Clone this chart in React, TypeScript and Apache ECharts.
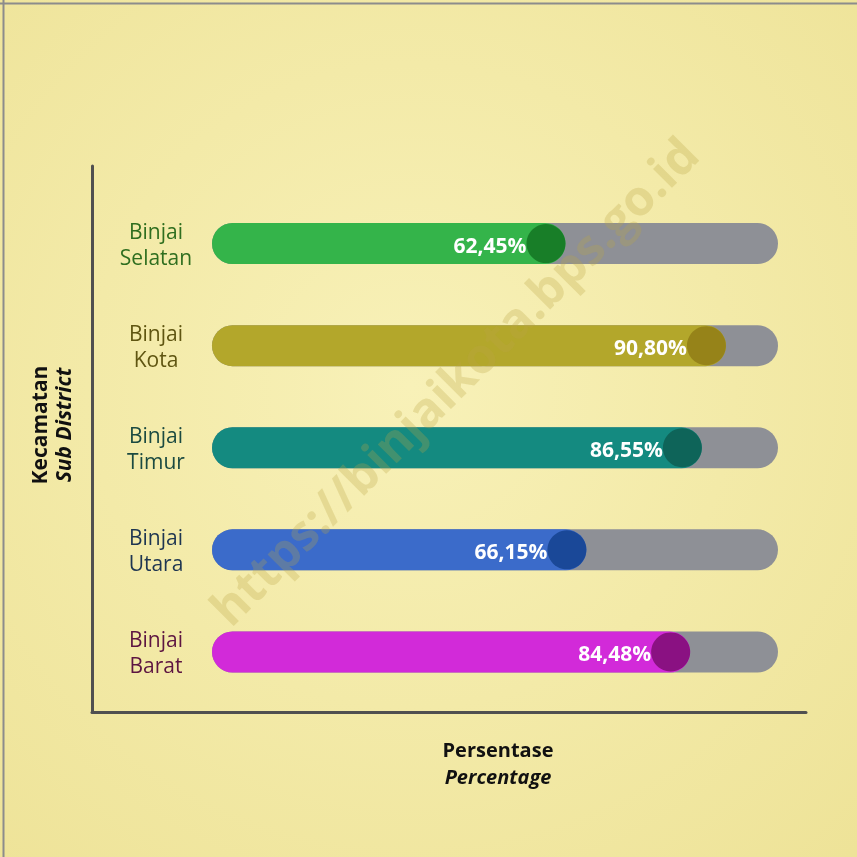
import React, { useEffect, useRef } from "react";
import * as echarts from "echarts";

const districts = ["Binjai Selatan", "Binjai Kota", "Binjai Timur", "Binjai Utara", "Binjai Barat"];
const percentages = [62.45, 90.8, 86.55, 66.15, 84.48];
const barColors = ["#34b44a", "#b3a72b", "#148a80", "#3b6bca", "#d22ad9"];
const dotColors = ["#11701f", "#8e7b15", "#0c5a4f", "#13408b", "#780b6c"];
const labelColors = ["#2f6e1f", "#5f5511", "#1b4a41", "#1e3551", "#5d1541"];
const xTitle = ["Persentase", "Percentage"];
const yTitle = ["Kecamatan", "Sub District"];
const watermark = "https://binjaikota.bps.go.id";

const FONT = "'Open Sans', 'Noto Sans', sans-serif";

export default function App() {
  const ref = useRef<HTMLDivElement>(null);
  useEffect(() => {
    if (!ref.current) return;
    const chart = echarts.init(ref.current, null, { renderer: "svg" });
    chart.setOption({
      animation: false,
      backgroundColor: {
        type: "radial",
        x: 0.48,
        y: 0.45,
        r: 0.75,
        colorStops: [
          { offset: 0, color: "#f8f1b8" },
          { offset: 1, color: "#eee398" },
        ],
      },
      grid: [
        { left: 212, right: 79, top: 192.5, bottom: 154, containLabel: false },
        { left: 92, right: 51, top: 166, bottom: 145, containLabel: false },
      ],
      xAxis: [
        { type: "value", gridIndex: 0, min: 0, max: 100, show: false },
        {
          type: "value",
          gridIndex: 1,
          min: 0,
          max: 1,
          axisLine: { show: true, lineStyle: { color: "#505050", width: 3 } },
          axisTick: { show: false },
          axisLabel: { show: false },
          splitLine: { show: false },
        },
      ],
      yAxis: [
        {
          type: "category",
          gridIndex: 0,
          inverse: true,
          data: districts.map((d, i) => ({
            value: d.replace(" ", "\n"),
            textStyle: { color: labelColors[i], align: "center" },
          })),
          axisLine: { show: false },
          axisTick: { show: false },
          axisLabel: {
            margin: 56,
            align: "center",
            fontSize: 21,
            lineHeight: 26,
            fontFamily: FONT,
          },
        },
        {
          type: "value",
          gridIndex: 1,
          min: 0,
          max: 1,
          axisLine: { show: true, lineStyle: { color: "#505050", width: 3 } },
          axisTick: { show: false },
          axisLabel: { show: false },
          splitLine: { show: false },
        },
      ],
      series: [
        {
          type: "bar",
          xAxisIndex: 0,
          yAxisIndex: 0,
          barWidth: 41,
          showBackground: true,
          backgroundStyle: { color: "#8e9096", borderRadius: 20.5 },
          data: percentages.map((v, i) => ({
            value: v,
            itemStyle: { color: barColors[i], borderRadius: 20.5 },
          })),
          label: {
            show: true,
            position: "insideRight",
            offset: [-34, 1],
            color: "#ffffff",
            fontWeight: "bold",
            fontSize: 21,
            fontFamily: FONT,
            formatter: (p: any) => p.value.toFixed(2).replace(".", ",") + "%",
          },
          z: 2,
        },
        {
          type: "scatter",
          xAxisIndex: 0,
          yAxisIndex: 0,
          symbol: "circle",
          symbolSize: 39,
          symbolOffset: [-19.5, 0],
          data: percentages.map((v, i) => ({
            value: [v, i],
            itemStyle: { color: dotColors[i] },
          })),
          z: 3,
        },
      ],
      graphic: [
        { type: "line", shape: { x1: 0, y1: 3.5, x2: 857, y2: 3.5 }, style: { stroke: "#8c8c8c", lineWidth: 2 } },
        { type: "line", shape: { x1: 3.5, y1: 0, x2: 3.5, y2: 857 }, style: { stroke: "#8c8c8c", lineWidth: 2 } },
        {
          type: "text",
          x: 498,
          y: 763,
          style: {
            text: "{a|" + xTitle[0] + "}\n{b|" + xTitle[1] + "}",
            align: "center",
            verticalAlign: "middle",
            fill: "#111",
            rich: {
              a: { fontSize: 20, fontWeight: "bold", fontFamily: FONT, lineHeight: 27, fill: "#111" },
              b: { fontSize: 20, fontWeight: "bold", fontStyle: "italic", fontFamily: FONT, lineHeight: 27, fill: "#111" },
            },
          },
        },
        {
          type: "text",
          x: 51,
          y: 425,
          rotation: Math.PI / 2,
          style: {
            text: "{a|" + yTitle[0] + "}\n{b|" + yTitle[1] + "}",
            align: "center",
            verticalAlign: "middle",
            fill: "#111",
            rich: {
              a: { fontSize: 21, fontWeight: "bold", fontFamily: FONT, lineHeight: 24, fill: "#111" },
              b: { fontSize: 21, fontWeight: "bold", fontStyle: "italic", fontFamily: FONT, lineHeight: 24, fill: "#111" },
            },
          },
        },
        {
          type: "text",
          x: 453,
          y: 380,
          rotation: Math.PI / 4,
          z: 100,
          style: {
            text: watermark,
            align: "center",
            verticalAlign: "middle",
            fontSize: 49,
            fontWeight: "bold",
            fontFamily: FONT,
            fill: "rgba(185,165,70,0.28)",
          },
        },
      ],
    });
    return () => chart.dispose();
  }, []);
  return (
    <div
      ref={ref}
      style={{ position: "fixed", left: 0, top: 0, width: 857, height: 857 }}
    />
  );
}
